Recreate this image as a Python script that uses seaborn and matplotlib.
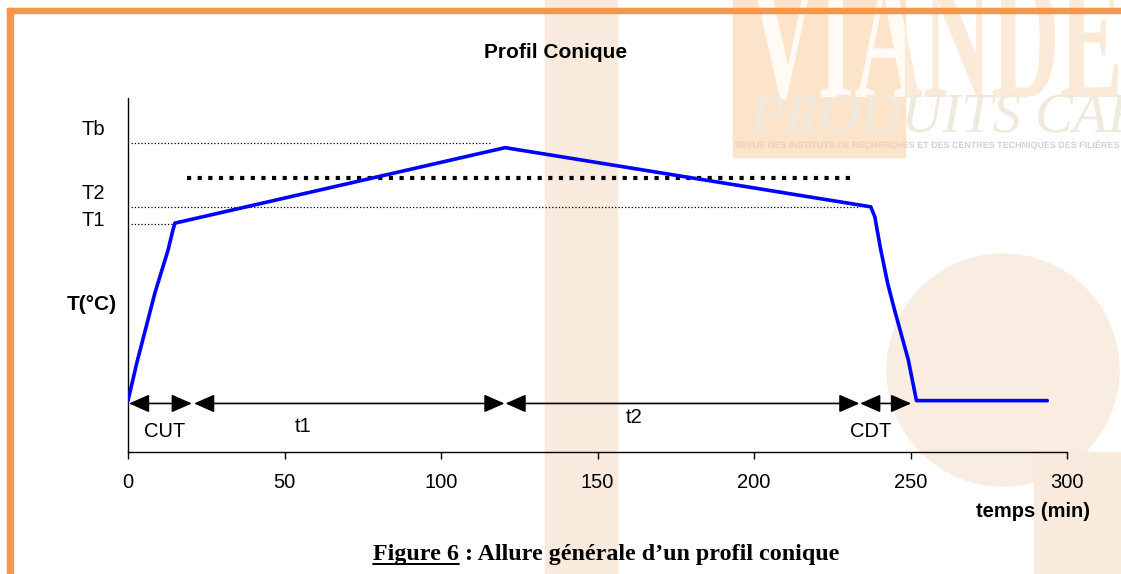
import matplotlib
matplotlib.use("Agg")
import matplotlib.pyplot as plt
from matplotlib import patches, transforms
from matplotlib.textpath import TextPath
from matplotlib.font_manager import FontProperties
from matplotlib.lines import Line2D
import seaborn as sns

# temperature profile (time in min, temperature in arbitrary units)
time_min = [0, 2.8, 8.6, 12.8, 14.3, 15.0, 120.5, 237.3, 238.6, 240.4, 242.7, 244.9, 249.3, 251.9, 293.7]
temp = [14.5, 25.1, 44.9, 57.0, 62.5, 64.6, 85.9, 69.2, 66.4, 57.5, 47.6, 40.1, 26.0, 14.5, 14.5]

# reference levels (thin dotted lines)
ref_names = ["Tb", "T2", "T1"]
ref_level = [87.3, 69.1, 64.3]
ref_end = [116.0, 234.0, 15.0]

# set point (thick dotted line)
target_level = 77.3
target_start, target_end = 18.8, 231.7

# phases
seg_names = ["CUT", "t1", "t2", "CDT"]
seg_start = [0.3, 21.1, 120.6, 233.9]
seg_end = [20.4, 120.3, 233.7, 250.2]
arrow_level = 13.7

x_ticks = [0, 50, 100, 150, 200, 250, 300]

# label placement
ref_label_pos = [(-15.0, 91.0), (-15.0, 73.0), (-15.0, 65.3)]
seg_label_pos = [(11.8, 5.7), (56.1, 7.3), (161.7, 9.7), (237.3, 5.9)]

W, H = 1121, 574
sns.set_style("white")
plt.rcParams["font.family"] = ["Liberation Sans", "DejaVu Sans"]
plt.rcParams["text.color"] = "black"
plt.rcParams["axes.labelcolor"] = "black"
plt.rcParams["xtick.color"] = "black"

fig = plt.figure(figsize=(W / 100, H / 100), dpi=100, facecolor="white")
px = transforms.Affine2D().scale(1 / W, -1 / H).translate(0, 1) + fig.transFigure

# ---- background watermark -------------------------------------------------
pale = "#F8EADC"
fig.add_artist(patches.Rectangle((545, 0), 72, H, transform=px, color=pale, zorder=-10))
fig.add_artist(patches.Circle((1003, 370), 116, transform=px, color="#F9EDE1", zorder=-10))
fig.add_artist(patches.Rectangle((1034, 452), 90, 130, transform=px, color=pale, zorder=-10))
logo = patches.Rectangle((733, 0), 172, 157, transform=px, color="#FCE4CB", zorder=-9)
fig.add_artist(logo)


def logo_text(text, prop, x0, base, sx, sy, color, clip=None):
    path = TextPath((0, 0), text, size=1, prop=prop)
    ext = path.get_extents()
    tr = transforms.Affine2D().translate(-ext.x0, 0).scale(sx, -sy).translate(x0, base) + px
    p = patches.PathPatch(path, transform=tr, facecolor=color, edgecolor="none", zorder=-8)
    fig.add_artist(p)
    if clip is not None:
        p.set_clip_path(clip)


serif_b = FontProperties(family="Liberation Serif", weight="bold")
serif_i = FontProperties(family="Liberation Serif", style="italic")
sans_b = FontProperties(family="Liberation Sans", weight="bold")

ext = TextPath((0, 0), "VIANDE", size=1, prop=serif_b).get_extents()
vx, vy = 368 / ext.width, 118 / ext.y1
logo_text("VIANDE", serif_b, 750, 97, vx, vy, "#FBEAD8")
logo_text("VIANDE", serif_b, 750, 97, vx, vy, "#FFFAF3", clip=logo)

ext = TextPath((0, 0), "PRODUITS", size=1, prop=serif_i).get_extents()
ps = 270 / ext.width
logo_text("PRODUITS CARNÉS", serif_i, 750, 132, ps, ps, "#EFEADD")

small = "REVUE DES INSTITUTS DE RECHERCHES ET DES CENTRES TECHNIQUES DES FILIÈRES"
ext = TextPath((0, 0), small, size=1, prop=sans_b).get_extents()
logo_text(small, sans_b, 735, 148, 384 / ext.width, 8 / ext.y1, "#D2D2D2")
logo_text(small, sans_b, 735, 148, 384 / ext.width, 8 / ext.y1, "#F6D6B6", clip=logo)

# orange frame
orange = "#F79646"
fig.add_artist(patches.Rectangle((7, 8), W, 5, transform=px, color=orange, zorder=10))
fig.add_artist(patches.Rectangle((7, 8), 6, H, transform=px, color=orange, zorder=10))

# ---- chart ----------------------------------------------------------------
ax = fig.add_axes([128 / W, 1 - 452 / H, 939 / W, 354.3 / H])
ax.set_facecolor("none")

sns.lineplot(x=time_min, y=temp, ax=ax, color="#0000FF", linewidth=2.6, zorder=5)

ax.hlines(ref_level, 0.9, ref_end, colors="black", linestyles=":", linewidth=0.9)
ax.plot([target_start, target_end], [target_level, target_level], color="black",
        linewidth=3, dashes=(1, 1.55))

for s, e in zip(seg_start, seg_end):
    ax.annotate("", xy=(e, arrow_level), xytext=(s, arrow_level),
                arrowprops=dict(arrowstyle="<|-|>,head_length=1.25,head_width=0.55",
                                color="black", lw=1.2, shrinkA=0, shrinkB=0,
                                mutation_scale=10))

for name, (x, y) in zip(seg_names, seg_label_pos):
    ax.text(x, y, name, fontsize=14.5, ha="center", va="center")
for name, (x, y) in zip(ref_names, ref_label_pos):
    ax.text(x, y, name, fontsize=14.5, ha="left", va="center")

ax.set_xlim(0, 300)
ax.set_ylim(0, 100)
ax.set_xticks(x_ticks)
ax.set_yticks([])
sns.despine(ax=ax)
for sp in ["left", "bottom"]:
    ax.spines[sp].set_color("black")
    ax.spines[sp].set_linewidth(1)
ax.tick_params(axis="x", direction="out", length=5, width=1, color="black",
               labelcolor="black", labelsize=14.5, pad=10, bottom=True)

ax.set_xlabel("temps (min)", fontsize=14.5, fontweight="bold")
ax.xaxis.set_label_coords(0.964, -0.142)
ax.set_ylabel("T(°C)", fontsize=15, fontweight="bold", rotation=0, ha="center", va="center")
ax.yaxis.set_label_coords(-0.0383, 0.415)

fig.text(555.5 / W, 1 - 52 / H, "Profil Conique", fontsize=15, fontweight="bold",
         ha="center", va="center")

# caption with underlined figure number
cap_props = dict(family="Liberation Serif", fontweight="bold", fontsize=17.3)
cap = fig.text(606 / W, 1 - 560 / H, "Figure 6 : Allure générale d\u2019un profil conique",
               ha="center", va="baseline", **cap_props)
renderer = fig.canvas.get_renderer()
bb = cap.get_window_extent(renderer)
tmp = fig.text(0, 0, "Figure 6", **cap_props)
w = tmp.get_window_extent(renderer).width
tmp.remove()
fig.add_artist(Line2D([bb.x0, bb.x0 + w], [563.5, 563.5],
                      transform=transforms.Affine2D().scale(1, -1).translate(0, H) +
                      transforms.IdentityTransform(), color="black", linewidth=1.4))

fig.savefig("out.png", dpi=100, facecolor="white")
